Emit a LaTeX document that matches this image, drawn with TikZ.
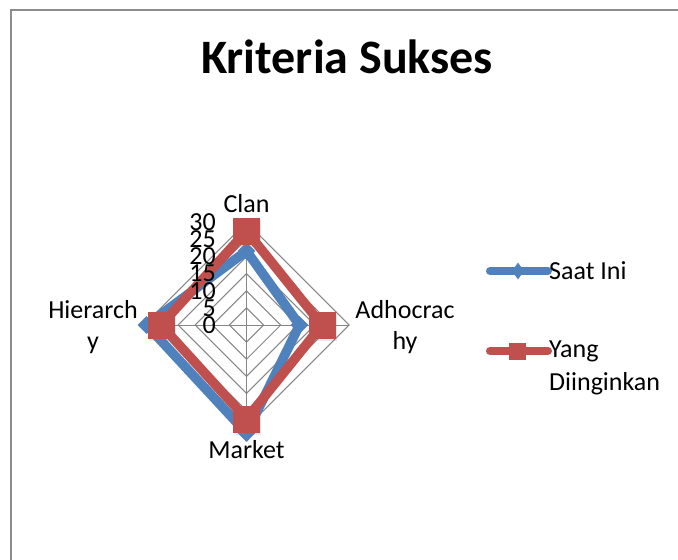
\documentclass[tikz,border=0pt]{standalone}
\usepackage{fontspec}
\setmainfont{Carlito}
\usetikzlibrary{shapes.geometric,shadows}
\definecolor{serblue}{HTML}{4F81BD}
\definecolor{serred}{HTML}{C0504D}
\definecolor{gridgray}{HTML}{868686}
\definecolor{framegray}{HTML}{8C8C8C}
\tikzset{
  frameline/.style={draw=framegray, line width=1.6pt},
  gridline/.style={draw=gridgray, line width=1pt},
  series/.style={line width=9.5pt, line join=miter},
  softshadow/.style={drop shadow={opacity=0.18, shadow xshift=1pt, shadow yshift=-2.5pt}},
  bluemark/.style={diamond, fill=serblue, inner sep=0pt, minimum width=18pt, minimum height=18pt},
  redmark/.style={rectangle, fill=serred, inner sep=0pt, minimum size=27pt, softshadow},
  redlegmark/.style={rectangle, fill=serred, inner sep=0pt, minimum size=17pt},
  bluelegmark/.style={diamond, fill=serblue, inner sep=0pt, minimum width=12pt, minimum height=17pt},
  ticklabel/.style={anchor=east, inner sep=0pt, font=\fontsize{26}{26}\selectfont},
  axislabel/.style={inner sep=0pt, align=center, font=\fontsize{26}{31.5}\selectfont},
  legendtext/.style={inner sep=0pt, align=left, font=\fontsize{26}{33}\selectfont},
  titletext/.style={inner sep=0pt, font=\fontsize{48}{48}\selectfont\bfseries},
}
\begin{document}
\begin{tikzpicture}[x=1pt, y=-1pt]
\useasboundingbox (0,0) rectangle (678,560);
\fill[white] (0,0) rectangle (678,560);

% chart border
\draw[frameline] (10.8,560) -- (10.8,9.8) -- (678,9.8);

% title
\node[titletext, anchor=base] (title) at (347,73.5) {Kriteria Sukses};

\begin{scope}[shift={(246.5,325)}]
  \coordinate (O) at (0,0);
  % rings every 5 units, 17.1 units of length each
  \foreach \k in {1,...,6}{
    \draw[gridline] (0,-17.1*\k) -- (17.1*\k,0) -- (0,17.1*\k) -- (-17.1*\k,0) -- cycle;
  }
  \coordinate (aC) at (0,-102.6);
  \coordinate (aA) at (102.6,0);
  \coordinate (aM) at (0,102.6);
  \coordinate (aH) at (-102.6,0);
  \foreach \a in {aC,aA,aM,aH}{ \draw[gridline] (O) -- (\a); }

  % Saat Ini
  \coordinate (bC) at (0,-74);
  \coordinate (bA) at (53,0);
  \coordinate (bM) at (0,108);
  \coordinate (bH) at (-100,0);
  \draw[series, serblue] (bC) -- (bA) -- (bM) -- (bH) -- cycle;
  \foreach \p in {bC,bA,bM,bH}{ \node[bluemark] (m\p) at (\p) {}; }

  % Yang Diinginkan
  \coordinate (rC) at (0,-94);
  \coordinate (rA) at (75.5,0);
  \coordinate (rM) at (0,94);
  \coordinate (rH) at (-85.5,0);
  \draw[series, serred] (rC) -- (rA) -- (rM) -- (rH) -- cycle;
  \foreach \p in {rC,rA,rM,rH}{ \node[redmark] (m\p) at (\p) {}; }

  % scale labels
  \foreach \k/\v in {0/0,1/5,2/10,3/15,4/20,5/25,6/30}{
    \node[ticklabel] (tick\k) at (-30.5,-17.1*\k) {\v};
  }
\end{scope}

% category labels
\node[axislabel, anchor=base] (clan) at (246.5,212) {Clan};
\node[axislabel, anchor=base] (market) at (246.5,458) {Market};
\node[axislabel, anchor=north] (hier) at (93,300) {Hierarch\\y};
\node[axislabel, anchor=north] (adho) at (405,300) {Adhocrac\\hy};

% legend
\coordinate (lb1) at (490,271);
\coordinate (lb2) at (548,271);
\draw[serblue, line width=8pt, line cap=round] (lb1) -- (lb2);
\node[bluelegmark] (lbm) at (518,271) {};
\node[legendtext, anchor=west] (leg1) at (549,271) {Saat Ini};

\coordinate (lr1) at (490,351);
\coordinate (lr2) at (548,351);
\draw[serred, line width=8pt, line cap=round] (lr1) -- (lr2);
\node[redlegmark] (lrm) at (517,351) {};
\node[legendtext, anchor=west] (leg2) at (549,367.5) {Yang\\Diinginkan};
\end{tikzpicture}
\end{document}
